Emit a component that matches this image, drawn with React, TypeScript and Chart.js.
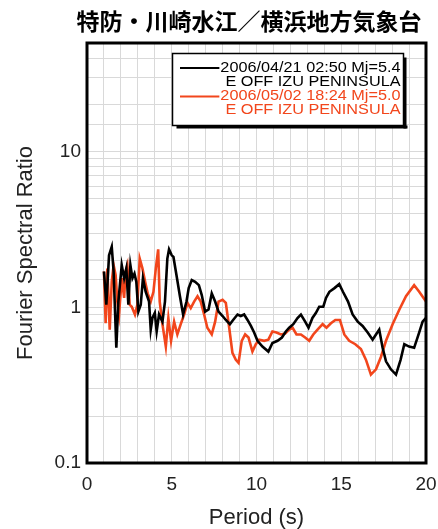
import React, { useEffect, useRef } from 'react';
import { Chart, registerables } from 'chart.js';

Chart.register(...registerables);

const TITLE = '特防・川崎水江／横浜地方気象台';
const X_LABEL = 'Period (s)';
const Y_LABEL = 'Fourier Spectral Ratio';
const X_MIN = 0;
const X_MAX = 20;
const Y_MIN = 0.1;
const Y_MAX = 50;
const X_TICK_LABELS = [0, 5, 10, 15, 20];
const Y_TICK_LABELS = [0.1, 1, 10];

const SERIES_A_LABEL = ['2006/04/21 02:50 Mj=5.4', 'E OFF IZU PENINSULA'];
const SERIES_B_LABEL = ['2006/05/02 18:24 Mj=5.0', 'E OFF IZU PENINSULA'];
const COLOR_A = '#000000';
const COLOR_B = '#f2461c';

const periodA = [1.0, 1.14, 1.3, 1.46, 1.57, 1.73, 1.85, 2.05, 2.19, 2.32, 2.44, 2.56, 2.68, 2.8, 2.91, 3.03, 3.17, 3.3, 3.46, 3.66, 3.76, 3.86, 4.0, 4.11, 4.25, 4.45, 4.6, 4.74, 4.84, 5.0, 5.1, 5.28, 5.47, 5.67, 5.87, 6.0, 6.18, 6.38, 6.6, 6.77, 6.97, 7.17, 7.36, 7.56, 7.76, 8.0, 8.19, 8.43, 8.62, 8.88, 9.07, 9.27, 9.47, 9.67, 9.86, 10.06, 10.35, 10.7, 10.94, 11.24, 11.5, 11.73, 11.93, 12.17, 12.42, 12.62, 12.87, 13.07, 13.3, 13.5, 13.7, 13.94, 14.1, 14.3, 14.6, 14.88, 15.1, 15.4, 15.67, 15.97, 16.26, 16.56, 16.85, 17.05, 17.24, 17.44, 17.64, 17.93, 18.23, 18.5, 18.72, 19.0, 19.3, 19.6, 19.8, 20.0];
const ratioA = [1.70, 1.04, 2.16, 2.45, 1.70, 0.55, 1.09, 1.87, 1.54, 1.78, 1.04, 1.87, 1.54, 1.65, 1.46, 0.94, 1.04, 1.54, 1.26, 1.09, 0.72, 0.855, 0.92, 0.70, 0.90, 0.81, 1.09, 2.06, 2.36, 2.16, 2.11, 1.61, 1.20, 0.90, 1.09, 1.33, 1.50, 1.46, 1.39, 1.20, 0.94, 0.97, 1.23, 1.09, 0.94, 0.88, 0.83, 0.78, 0.83, 0.90, 0.88, 0.90, 0.83, 0.76, 0.69, 0.61, 0.56, 0.52, 0.59, 0.61, 0.64, 0.70, 0.74, 0.78, 0.855, 0.90, 0.81, 0.74, 0.855, 0.92, 1.01, 1.01, 1.15, 1.26, 1.33, 1.41, 1.26, 1.09, 0.90, 0.81, 0.76, 0.69, 0.62, 0.67, 0.72, 0.55, 0.45, 0.40, 0.37, 0.46, 0.58, 0.56, 0.55, 0.69, 0.81, 0.855];

const periodB = [1.0, 1.1, 1.2, 1.34, 1.46, 1.57, 1.69, 1.79, 1.89, 2.05, 2.19, 2.28, 2.38, 2.52, 2.64, 2.83, 2.97, 3.11, 3.27, 3.43, 3.58, 3.76, 3.92, 4.06, 4.2, 4.29, 4.45, 4.65, 4.8, 4.96, 5.14, 5.33, 5.53, 5.73, 5.93, 6.12, 6.32, 6.52, 6.71, 6.91, 7.1, 7.36, 7.56, 7.76, 8.0, 8.19, 8.39, 8.58, 8.78, 8.94, 9.13, 9.33, 9.53, 9.76, 9.96, 10.16, 10.45, 10.7, 10.94, 11.18, 11.44, 11.69, 11.93, 12.13, 12.36, 12.62, 12.87, 13.11, 13.35, 13.6, 13.9, 14.13, 14.39, 14.65, 14.92, 15.18, 15.47, 15.83, 16.16, 16.46, 16.75, 17.05, 17.34, 17.64, 18.03, 18.43, 18.82, 19.3, 19.6, 20.0];
const ratioB = [1.70, 0.79, 1.78, 0.72, 1.46, 1.87, 1.61, 1.09, 0.90, 1.54, 1.15, 1.70, 1.87, 1.04, 1.01, 0.90, 1.04, 2.06, 1.78, 1.46, 1.23, 1.09, 1.26, 1.78, 2.36, 1.09, 0.78, 0.56, 0.855, 0.61, 0.81, 0.67, 0.78, 0.90, 1.07, 0.99, 1.09, 1.18, 1.09, 0.90, 0.74, 0.67, 0.81, 1.09, 1.12, 1.07, 0.74, 0.51, 0.46, 0.44, 0.61, 0.67, 0.64, 0.52, 0.58, 0.62, 0.61, 0.62, 0.70, 0.69, 0.67, 0.68, 0.72, 0.74, 0.67, 0.67, 0.64, 0.61, 0.67, 0.72, 0.78, 0.74, 0.79, 0.83, 0.83, 0.67, 0.61, 0.58, 0.54, 0.46, 0.37, 0.40, 0.48, 0.61, 0.78, 0.97, 1.18, 1.39, 1.26, 1.09];

const LATIN = "'Liberation Sans', Arial, Helvetica, sans-serif";
const CJK = "'Noto Sans CJK JP', 'Noto Sans CJK SC', sans-serif";

const decorPlugin = {
  id: 'decor',
  afterDatasetsDraw(chart: any) {
    const { ctx, chartArea } = chart;
    const { left, top, right, bottom } = chartArea;
    ctx.save();
    // plot frame
    ctx.strokeStyle = '#000';
    ctx.lineWidth = 3;
    ctx.strokeRect(left, top, right - left, bottom - top);

    // title
    ctx.fillStyle = '#000';
    ctx.font = `bold 23px ${CJK}`;
    ctx.textAlign = 'center';
    ctx.textBaseline = 'middle';
    ctx.fillText(TITLE, 249, 21);

    // legend box
    const bx = 172.5, by = 53.5, bw = 231, bh = 72;
    ctx.fillStyle = '#fff';
    ctx.fillRect(bx, by, bw, bh);
    ctx.fillStyle = '#000';
    ctx.fillRect(bx + 4, by + bh, bw, 3);
    ctx.fillRect(bx + bw, by + 4, 3, bh - 1);
    ctx.lineWidth = 1.5;
    ctx.strokeStyle = '#000';
    ctx.strokeRect(bx, by, bw, bh);

    const textRight = 400.5;
    const sx = 1.16;
    ctx.font = `14px ${LATIN}`;
    ctx.textAlign = 'right';
    ctx.textBaseline = 'middle';
    const rows = [
      { lines: SERIES_A_LABEL, color: COLOR_A, y: 68 },
      { lines: SERIES_B_LABEL, color: COLOR_B, y: 96.5 },
    ];
    rows.forEach((r) => {
      ctx.fillStyle = r.color;
      ctx.save();
      ctx.translate(textRight, 0);
      ctx.scale(sx, 1);
      ctx.fillText(r.lines[0], 0, r.y);
      ctx.fillText(r.lines[1], 0, r.y + 14);
      ctx.restore();
      const w = ctx.measureText(r.lines[0]).width * sx;
      ctx.strokeStyle = r.color;
      ctx.lineWidth = 2;
      ctx.beginPath();
      ctx.moveTo(180, r.y);
      ctx.lineTo(textRight - w - 1, r.y);
      ctx.stroke();
    });
    ctx.restore();
  },
};

export default function App() {
  const ref = useRef<HTMLCanvasElement | null>(null);

  useEffect(() => {
    if (!ref.current) return;
    const chart = new Chart(ref.current, {
      type: 'line',
      data: {
        datasets: [
          {
            label: SERIES_A_LABEL.join(' '),
            data: periodA.map((p, i) => ({ x: p, y: ratioA[i] })),
            borderColor: COLOR_A,
            backgroundColor: COLOR_A,
            borderWidth: 2.6,
            pointRadius: 0,
            tension: 0,
          },
          {
            label: SERIES_B_LABEL.join(' '),
            data: periodB.map((p, i) => ({ x: p, y: ratioB[i] })),
            borderColor: COLOR_B,
            backgroundColor: COLOR_B,
            borderWidth: 2.6,
            pointRadius: 0,
            tension: 0,
          },
        ],
      },
      plugins: [decorPlugin],
      options: {
        responsive: false,
        animation: false,
        events: [],
        layout: { padding: { top: 43, right: 0, left: 0, bottom: 0 } },
        plugins: {
          legend: { display: false },
          title: { display: false },
          tooltip: { enabled: false },
        },
        scales: {
          x: {
            type: 'linear',
            min: X_MIN,
            max: X_MAX,
            afterFit: (s: any) => { s.height = 66; s.paddingRight = 12; },
            ticks: {
              stepSize: 1,
              autoSkip: false,
              maxRotation: 0,
              padding: 10,
              color: '#222',
              font: { family: LATIN, size: 19 },
              callback: (v: any) => (X_TICK_LABELS.includes(Number(v)) ? String(v) : ''),
            },
            grid: { color: '#d9d9d9', lineWidth: 1, drawTicks: false },
            border: { display: false },
            title: {
              display: true,
              text: X_LABEL,
              color: '#222',
              font: { family: LATIN, size: 22, lineHeight: 1 },
              padding: { top: 0, bottom: 0 },
            },
          },
          y: {
            type: 'logarithmic',
            min: Y_MIN,
            max: Y_MAX,
            afterFit: (s: any) => { s.width = 87; },
            ticks: {
              autoSkip: false,
              padding: 6,
              color: '#222',
              font: { family: LATIN, size: 19 },
              callback: (v: any) => {
                const n = Number(v);
                const hit = Y_TICK_LABELS.find((t) => Math.abs(t - n) < 1e-9);
                return hit !== undefined ? String(hit) : '';
              },
            },
            grid: { color: '#d9d9d9', lineWidth: 1, drawTicks: false },
            border: { display: false },
            title: {
              display: true,
              text: Y_LABEL,
              color: '#222',
              font: { family: LATIN, size: 22, lineHeight: 1 },
              padding: { top: 15, bottom: 0 },
            },
          },
        },
      },
    } as any);
    return () => chart.destroy();
  }, []);

  return (
    <div style={{ position: 'absolute', left: 0, top: 0, width: 438, height: 529, background: '#fff' }}>
      <canvas ref={ref} width={438} height={529} style={{ display: 'block' }} />
    </div>
  );
}
